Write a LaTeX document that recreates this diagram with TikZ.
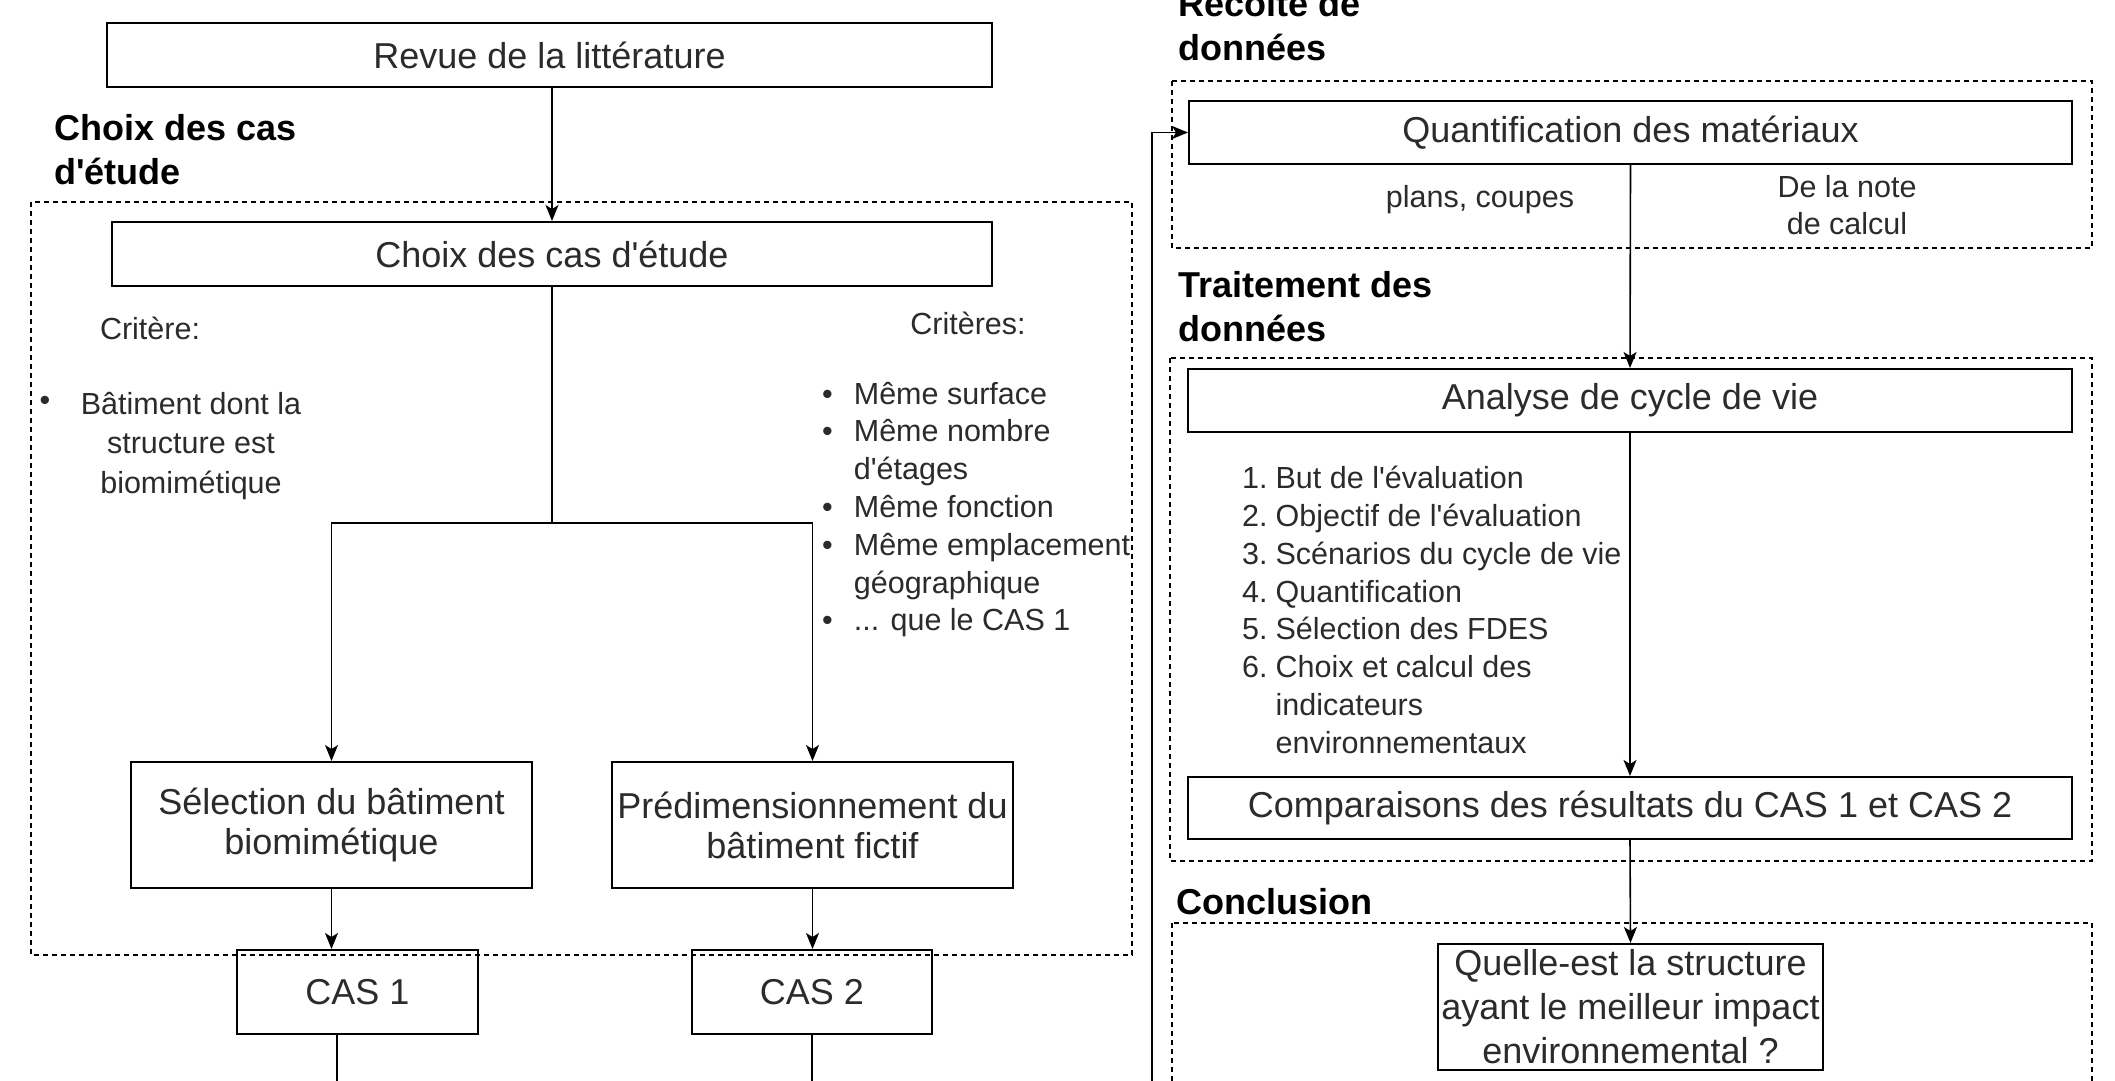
\documentclass[tikz,border=0pt]{standalone}
\usepackage{fontspec}
\newfontfamily\lsans{Liberation Sans}
\setmainfont{Liberation Sans}
\usetikzlibrary{arrows.meta}
\definecolor{txt}{HTML}{2B2B2B}
\begin{document}
\begin{tikzpicture}[x=1pt,y=-1pt,
  box/.style={draw=black, line width=2pt, inner sep=0pt, align=center, text=txt,
    font=\lsans\fontsize{36}{40}\selectfont},
  grp/.style={draw=black, line width=1.6pt, dash pattern=on 5pt off 4pt},
  arr/.style={draw=black, line width=1.6pt, -{Stealth[length=16pt,width=13pt,inset=4pt]}},
  ln/.style={draw=black, line width=1.6pt},
  ttl/.style={font=\lsans\bfseries\fontsize{36}{44}\selectfont, align=left, anchor=west, inner sep=0pt, text=black},
  sm/.style={font=\lsans\fontsize{30.5}{37.8}\selectfont, text=txt, inner sep=0pt},
]
\useasboundingbox (0,0) rectangle (2115,1080);
\clip (0,0) rectangle (2115,1080);
\fill[white] (0,0) rectangle (2115,1080);

% groups
\draw[grp] (31,202) rectangle (1132,955);
\draw[grp] (1172,81) rectangle (2092,248);
\draw[grp] (1170,358) rectangle (2092,861);
\draw[grp] (1172,923) rectangle (2092,1100);

% titles
\node[ttl] (t1) at (54,150) {Choix des cas\\d'étude};
\node[ttl] (t2) at (1178,25) {Récolte de\\données};
\node[ttl] (t3) at (1178,306.5) {Traitement des\\données};
\node[ttl] (t4) at (1176,902) {Conclusion};

% boxes
\node[box, minimum width=885pt, minimum height=64pt] (revue) at (549.5,55) {Revue de la littérature};
\node[box, minimum width=880pt, minimum height=64pt] (choix) at (552,254) {Choix des cas d'étude};
\node[box, minimum width=401pt, minimum height=126pt] (sel) at (331.5,825) {Sélection du bâtiment\\biomimétique};
\node[box, minimum width=401pt, minimum height=126pt] (pred) at (812.5,825) {Prédimensionnement du\\bâtiment fictif};
\node[box, minimum width=241pt, minimum height=84pt] (cas1) at (357.5,992) {CAS 1};
\node[box, minimum width=240pt, minimum height=84pt] (cas2) at (812,992) {CAS 2};
\node[box, minimum width=883pt, minimum height=63pt] (quant) at (1630.5,132.5) {Quantification des matériaux};
\node[box, minimum width=884pt, minimum height=63pt] (acv) at (1630,400.5) {Analyse de cycle de vie};
\node[box, minimum width=884pt, minimum height=62pt] (comp) at (1630,808) {Comparaisons des résultats du CAS 1 et CAS 2};
\node[box, minimum width=385pt, minimum height=126pt, font=\lsans\fontsize{36}{44}\selectfont] (quest) at (1630.5,1007) {Quelle-est la structure\\ayant le meilleur impact\\environnemental ?};

% side texts
\node[sm] (crit1) at (150,328) {Critère:};
\node[sm] (crit2) at (968,323) {Critères:};
\node[sm] (b1) at (45,403) {•};
\node[sm, align=center, font=\lsans\fontsize{30.5}{39.5}\selectfont] (bt) at (191,446) {Bâtiment dont la\\structure est\\biomimétique};
\node[sm, anchor=west] (crits) at (822,510) {\begin{tabular}{@{}l@{\hspace{21pt}}l@{}}•&Même surface\\•&Même nombre\\&d'étages\\•&Même fonction\\•&Même emplacement\\&géographique\\•&... que le CAS 1\end{tabular}};
\node[sm] (plans) at (1480,200) {plans, coupes};
\node[sm, align=center, font=\lsans\fontsize{30.5}{37}\selectfont] (note) at (1847,205) {De la note\\de calcul};
\node[sm, anchor=west] (steps) at (1242,613.5) {\begin{tabular}{@{}l@{\hspace{8pt}}l@{}}1.&But de l'évaluation\\2.&Objectif de l'évaluation\\3.&Scénarios du cycle de vie\\4.&Quantification\\5.&Sélection des FDES\\6.&Choix et calcul des\\&indicateurs\\&environnementaux\end{tabular}};

% connectors
\coordinate (split) at (552,523);
\coordinate (e1) at (337,1090);
\coordinate (e2) at (812,1090);
\coordinate (e3) at (1152,1090);
\draw[arr] (revue.south -| choix.north) -- (choix.north);
\draw[ln] (choix.south) -- (split);
\draw[arr] (split) -| (sel.north);
\draw[arr] (split) -| (pred.north);
\draw[arr] (sel.south) -- (sel.south |- cas1.north);
\draw[arr] (pred.south) -- (pred.south |- cas2.north);
\draw[ln] (cas1.south -| e1) -- (e1);
\draw[ln] (cas2.south) -- (e2);
\draw[arr] (e3) |- (quant.west);
\draw[arr] (quant.south) -- (acv.north);
\draw[arr] (acv.south) -- (comp.north);
\draw[arr] (comp.south) -- (quest.north);
\end{tikzpicture}
\end{document}
